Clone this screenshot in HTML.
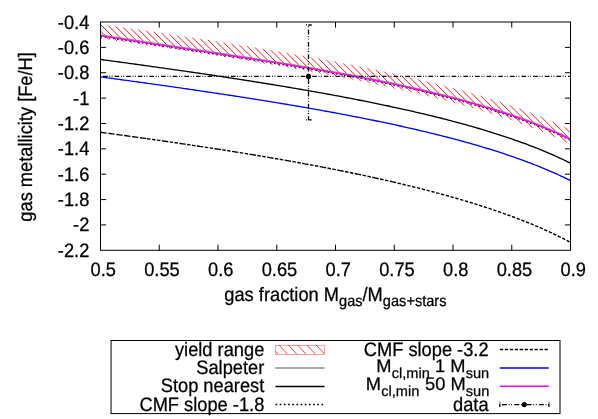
<!DOCTYPE html>
<html><head><meta charset="utf-8"><title>plot</title>
<style>html,body{margin:0;padding:0;background:#fff;}svg{display:block;}</style></head>
<body>
<svg width="598" height="419" viewBox="0 0 598 419">
<defs><clipPath id="plot"><rect x="100.50" y="22.00" width="470.00" height="228.30"/></clipPath>
<clipPath id="band"><path d="M100.50,24.31 L102.85,24.63 L105.20,24.96 L107.55,25.29 L109.90,25.62 L112.25,25.95 L114.60,26.28 L116.95,26.61 L119.30,26.94 L121.65,27.27 L124.00,27.61 L126.35,27.94 L128.70,28.27 L131.05,28.61 L133.40,28.94 L135.75,29.28 L138.10,29.62 L140.45,29.95 L142.80,30.29 L145.15,30.63 L147.50,30.97 L149.85,31.31 L152.20,31.65 L154.55,31.99 L156.90,32.34 L159.25,32.68 L161.60,33.03 L163.95,33.37 L166.30,33.72 L168.65,34.06 L171.00,34.41 L173.35,34.76 L175.70,35.11 L178.05,35.46 L180.40,35.81 L182.75,36.16 L185.10,36.52 L187.45,36.87 L189.80,37.23 L192.15,37.58 L194.50,37.94 L196.85,38.30 L199.20,38.66 L201.55,39.02 L203.90,39.38 L206.25,39.74 L208.60,40.10 L210.95,40.47 L213.30,40.83 L215.65,41.20 L218.00,41.57 L220.35,41.94 L222.70,42.31 L225.05,42.68 L227.40,43.05 L229.75,43.43 L232.10,43.80 L234.45,44.18 L236.80,44.56 L239.15,44.93 L241.50,45.31 L243.85,45.70 L246.20,46.08 L248.55,46.46 L250.90,46.85 L253.25,47.23 L255.60,47.62 L257.95,48.01 L260.30,48.40 L262.65,48.80 L265.00,49.19 L267.35,49.58 L269.70,49.98 L272.05,50.38 L274.40,50.78 L276.75,51.18 L279.10,51.59 L281.45,51.99 L283.80,52.40 L286.15,52.80 L288.50,53.21 L290.85,53.63 L293.20,54.04 L295.55,54.45 L297.90,54.87 L300.25,55.29 L302.60,55.71 L304.95,56.13 L307.30,56.56 L309.65,56.98 L312.00,57.41 L314.35,57.84 L316.70,58.27 L319.05,58.71 L321.40,59.14 L323.75,59.58 L326.10,60.02 L328.45,60.46 L330.80,60.91 L333.15,61.36 L335.50,61.81 L337.85,62.26 L340.20,62.71 L342.55,63.17 L344.90,63.63 L347.25,64.09 L349.60,64.55 L351.95,65.01 L354.30,65.48 L356.65,65.95 L359.00,66.43 L361.35,66.90 L363.70,67.38 L366.05,67.86 L368.40,68.35 L370.75,68.84 L373.10,69.33 L375.45,69.82 L377.80,70.31 L380.15,70.81 L382.50,71.31 L384.85,71.82 L387.20,72.33 L389.55,72.84 L391.90,73.35 L394.25,73.87 L396.60,74.39 L398.95,74.92 L401.30,75.45 L403.65,75.98 L406.00,76.51 L408.35,77.05 L410.70,77.59 L413.05,78.14 L415.40,78.69 L417.75,79.25 L420.10,79.80 L422.45,80.37 L424.80,80.93 L427.15,81.50 L429.50,82.08 L431.85,82.66 L434.20,83.24 L436.55,83.83 L438.90,84.43 L441.25,85.02 L443.60,85.63 L445.95,86.24 L448.30,86.85 L450.65,87.47 L453.00,88.09 L455.35,88.72 L457.70,89.35 L460.05,89.99 L462.40,90.64 L464.75,91.29 L467.10,91.95 L469.45,92.61 L471.80,93.28 L474.15,93.96 L476.50,94.64 L478.85,95.33 L481.20,96.03 L483.55,96.73 L485.90,97.44 L488.25,98.16 L490.60,98.88 L492.95,99.61 L495.30,100.35 L497.65,101.10 L500.00,101.86 L502.35,102.63 L504.70,103.40 L507.05,104.18 L509.40,104.98 L511.75,105.78 L514.10,106.59 L516.45,107.41 L518.80,108.24 L521.15,109.08 L523.50,109.94 L525.85,110.80 L528.20,111.68 L530.55,112.56 L532.90,113.46 L535.25,114.37 L537.60,115.30 L539.95,116.24 L542.30,117.19 L544.65,118.16 L547.00,119.14 L549.35,120.13 L551.70,121.14 L554.05,122.17 L556.40,123.22 L558.75,124.28 L561.10,125.36 L563.45,126.46 L565.80,127.58 L568.15,128.72 L570.50,129.88 L570.50,144.48 L568.15,143.31 L565.80,142.17 L563.45,141.06 L561.10,139.96 L558.75,138.87 L556.40,137.81 L554.05,136.76 L551.70,135.74 L549.35,134.72 L547.00,133.73 L544.65,132.74 L542.30,131.78 L539.95,130.82 L537.60,129.89 L535.25,128.96 L532.90,128.05 L530.55,127.15 L528.20,126.26 L525.85,125.38 L523.50,124.52 L521.15,123.66 L518.80,122.82 L516.45,121.99 L514.10,121.16 L511.75,120.35 L509.40,119.55 L507.05,118.76 L504.70,117.97 L502.35,117.20 L500.00,116.43 L497.65,115.67 L495.30,114.92 L492.95,114.18 L490.60,113.45 L488.25,112.72 L485.90,112.00 L483.55,111.29 L481.20,110.59 L478.85,109.89 L476.50,109.20 L474.15,108.52 L471.80,107.84 L469.45,107.17 L467.10,106.50 L464.75,105.85 L462.40,105.19 L460.05,104.55 L457.70,103.91 L455.35,103.27 L453.00,102.64 L450.65,102.02 L448.30,101.40 L445.95,100.78 L443.60,100.17 L441.25,99.57 L438.90,98.97 L436.55,98.38 L434.20,97.79 L431.85,97.20 L429.50,96.62 L427.15,96.04 L424.80,95.47 L422.45,94.90 L420.10,94.34 L417.75,93.78 L415.40,93.23 L413.05,92.67 L410.70,92.13 L408.35,91.58 L406.00,91.04 L403.65,90.51 L401.30,89.97 L398.95,89.44 L396.60,88.92 L394.25,88.40 L391.90,87.88 L389.55,87.36 L387.20,86.85 L384.85,86.34 L382.50,85.83 L380.15,85.33 L377.80,84.83 L375.45,84.34 L373.10,83.84 L370.75,83.35 L368.40,82.86 L366.05,82.38 L363.70,81.89 L361.35,81.41 L359.00,80.94 L356.65,80.46 L354.30,79.99 L351.95,79.52 L349.60,79.06 L347.25,78.59 L344.90,78.13 L342.55,77.67 L340.20,77.21 L337.85,76.76 L335.50,76.31 L333.15,75.86 L330.80,75.41 L328.45,74.96 L326.10,74.52 L323.75,74.08 L321.40,73.64 L319.05,73.20 L316.70,72.77 L314.35,72.33 L312.00,71.90 L309.65,71.47 L307.30,71.05 L304.95,70.62 L302.60,70.20 L300.25,69.78 L297.90,69.36 L295.55,68.94 L293.20,68.52 L290.85,68.11 L288.50,67.69 L286.15,67.28 L283.80,66.87 L281.45,66.47 L279.10,66.06 L276.75,65.66 L274.40,65.25 L272.05,64.85 L269.70,64.45 L267.35,64.06 L265.00,63.66 L262.65,63.26 L260.30,62.87 L257.95,62.48 L255.60,62.09 L253.25,61.70 L250.90,61.31 L248.55,60.92 L246.20,60.54 L243.85,60.16 L241.50,59.77 L239.15,59.39 L236.80,59.01 L234.45,58.63 L232.10,58.26 L229.75,57.88 L227.40,57.51 L225.05,57.13 L222.70,56.76 L220.35,56.39 L218.00,56.02 L215.65,55.65 L213.30,55.28 L210.95,54.92 L208.60,54.55 L206.25,54.19 L203.90,53.82 L201.55,53.46 L199.20,53.10 L196.85,52.74 L194.50,52.38 L192.15,52.02 L189.80,51.66 L187.45,51.31 L185.10,50.95 L182.75,50.60 L180.40,50.25 L178.05,49.89 L175.70,49.54 L173.35,49.19 L171.00,48.84 L168.65,48.49 L166.30,48.14 L163.95,47.80 L161.60,47.45 L159.25,47.11 L156.90,46.76 L154.55,46.42 L152.20,46.07 L149.85,45.73 L147.50,45.39 L145.15,45.05 L142.80,44.71 L140.45,44.37 L138.10,44.03 L135.75,43.69 L133.40,43.36 L131.05,43.02 L128.70,42.69 L126.35,42.35 L124.00,42.02 L121.65,41.68 L119.30,41.35 L116.95,41.02 L114.60,40.69 L112.25,40.35 L109.90,40.02 L107.55,39.69 L105.20,39.36 L102.85,39.04 L100.50,38.71 Z"/></clipPath>
<clipPath id="kb"><rect x="275.2" y="345" width="49.5" height="9.25"/></clipPath></defs>
<rect width="598" height="419" fill="#fff"/>
<path d="M100.50,47.37 h5.6 M570.50,47.37 h-5.6 M100.50,72.73 h5.6 M570.50,72.73 h-5.6 M100.50,98.10 h5.6 M570.50,98.10 h-5.6 M100.50,123.47 h5.6 M570.50,123.47 h-5.6 M100.50,148.83 h5.6 M570.50,148.83 h-5.6 M100.50,174.20 h5.6 M570.50,174.20 h-5.6 M100.50,199.57 h5.6 M570.50,199.57 h-5.6 M100.50,224.93 h5.6 M570.50,224.93 h-5.6 M159.25,250.30 v-5.6 M159.25,22.00 v5.6 M218.00,250.30 v-5.6 M218.00,22.00 v5.6 M276.75,250.30 v-5.6 M276.75,22.00 v5.6 M335.50,250.30 v-5.6 M335.50,22.00 v5.6 M394.25,250.30 v-5.6 M394.25,22.00 v5.6 M453.00,250.30 v-5.6 M453.00,22.00 v5.6 M511.75,250.30 v-5.6 M511.75,22.00 v5.6" stroke="#000" stroke-width="1" fill="none"/>
<g clip-path="url(#plot)" fill="none">
<g clip-path="url(#band)"><path d="M-121.16,0 L178.84,300.00 M-114.59,0 L185.41,300.00 M-108.02,0 L191.98,300.00 M-101.44,0 L198.56,300.00 M-94.87,0 L205.13,300.00 M-88.30,0 L211.70,300.00 M-81.73,0 L218.27,300.00 M-75.16,0 L224.84,300.00 M-68.58,0 L231.42,300.00 M-62.01,0 L237.99,300.00 M-55.44,0 L244.56,300.00 M-48.87,0 L251.13,300.00 M-42.30,0 L257.70,300.00 M-35.72,0 L264.28,300.00 M-29.15,0 L270.85,300.00 M-22.58,0 L277.42,300.00 M-16.01,0 L283.99,300.00 M-9.44,0 L290.56,300.00 M-2.86,0 L297.14,300.00 M3.71,0 L303.71,300.00 M10.28,0 L310.28,300.00 M16.85,0 L316.85,300.00 M23.42,0 L323.42,300.00 M30.00,0 L330.00,300.00 M36.57,0 L336.57,300.00 M43.14,0 L343.14,300.00 M49.71,0 L349.71,300.00 M56.28,0 L356.28,300.00 M62.86,0 L362.86,300.00 M69.43,0 L369.43,300.00 M76.00,0 L376.00,300.00 M82.57,0 L382.57,300.00 M89.14,0 L389.14,300.00 M95.72,0 L395.72,300.00 M102.29,0 L402.29,300.00 M108.86,0 L408.86,300.00 M115.43,0 L415.43,300.00 M122.00,0 L422.00,300.00 M128.58,0 L428.58,300.00 M135.15,0 L435.15,300.00 M141.72,0 L441.72,300.00 M148.29,0 L448.29,300.00 M154.86,0 L454.86,300.00 M161.44,0 L461.44,300.00 M168.01,0 L468.01,300.00 M174.58,0 L474.58,300.00 M181.15,0 L481.15,300.00 M187.72,0 L487.72,300.00 M194.30,0 L494.30,300.00 M200.87,0 L500.87,300.00 M207.44,0 L507.44,300.00 M214.01,0 L514.01,300.00 M220.58,0 L520.58,300.00 M227.16,0 L527.16,300.00 M233.73,0 L533.73,300.00 M240.30,0 L540.30,300.00 M246.87,0 L546.87,300.00 M253.44,0 L553.44,300.00 M260.02,0 L560.02,300.00 M266.59,0 L566.59,300.00 M273.16,0 L573.16,300.00 M279.73,0 L579.73,300.00 M286.30,0 L586.30,300.00 M292.88,0 L592.88,300.00 M299.45,0 L599.45,300.00 M306.02,0 L606.02,300.00 M312.59,0 L612.59,300.00 M319.16,0 L619.16,300.00 M325.74,0 L625.74,300.00 M332.31,0 L632.31,300.00 M338.88,0 L638.88,300.00 M345.45,0 L645.45,300.00 M352.02,0 L652.02,300.00 M358.60,0 L658.60,300.00 M365.17,0 L665.17,300.00 M371.74,0 L671.74,300.00 M378.31,0 L678.31,300.00 M384.88,0 L684.88,300.00 M391.46,0 L691.46,300.00 M398.03,0 L698.03,300.00 M404.60,0 L704.60,300.00 M411.17,0 L711.17,300.00 M417.74,0 L717.74,300.00 M424.32,0 L724.32,300.00 M430.89,0 L730.89,300.00 M437.46,0 L737.46,300.00 M444.03,0 L744.03,300.00 M450.60,0 L750.60,300.00 M457.18,0 L757.18,300.00 M463.75,0 L763.75,300.00 M470.32,0 L770.32,300.00 M476.89,0 L776.89,300.00 M483.46,0 L783.46,300.00 M490.04,0 L790.04,300.00 M496.61,0 L796.61,300.00 M503.18,0 L803.18,300.00 M509.75,0 L809.75,300.00 M516.32,0 L816.32,300.00 M522.90,0 L822.90,300.00 M529.47,0 L829.47,300.00 M536.04,0 L836.04,300.00 M542.61,0 L842.61,300.00 M549.18,0 L849.18,300.00 M555.76,0 L855.76,300.00 M562.33,0 L862.33,300.00 M568.90,0 L868.90,300.00" stroke="#ff1010" stroke-width="0.95"/></g>
<path d="M100.50,34.91 L102.85,35.28 L105.20,35.65 L107.55,36.02 L109.90,36.39 L112.25,36.76 L114.60,37.12 L116.95,37.49 L119.30,37.86 L121.65,38.22 L124.00,38.59 L126.35,38.95 L128.70,39.31 L131.05,39.68 L133.40,40.04 L135.75,40.40 L138.10,40.76 L140.45,41.12 L142.80,41.48 L145.15,41.84 L147.50,42.20 L149.85,42.56 L152.20,42.92 L154.55,43.28 L156.90,43.64 L159.25,43.99 L161.60,44.35 L163.95,44.71 L166.30,45.06 L168.65,45.42 L171.00,45.78 L173.35,46.13 L175.70,46.49 L178.05,46.85 L180.40,47.20 L182.75,47.56 L185.10,47.92 L187.45,48.27 L189.80,48.63 L192.15,48.99 L194.50,49.34 L196.85,49.70 L199.20,50.06 L201.55,50.41 L203.90,50.77 L206.25,51.13 L208.60,51.48 L210.95,51.84 L213.30,52.20 L215.65,52.56 L218.00,52.92 L220.35,53.28 L222.70,53.64 L225.05,54.00 L227.40,54.36 L229.75,54.72 L232.10,55.08 L234.45,55.45 L236.80,55.81 L239.15,56.18 L241.50,56.54 L243.85,56.91 L246.20,57.27 L248.55,57.64 L250.90,58.01 L253.25,58.38 L255.60,58.75 L257.95,59.12 L260.30,59.49 L262.65,59.86 L265.00,60.23 L267.35,60.61 L269.70,60.99 L272.05,61.36 L274.40,61.74 L276.75,62.12 L279.10,62.50 L281.45,62.88 L283.80,63.27 L286.15,63.65 L288.50,64.04 L290.85,64.42 L293.20,64.81 L295.55,65.20 L297.90,65.59 L300.25,65.99 L302.60,66.38 L304.95,66.78 L307.30,67.18 L309.65,67.58 L312.00,67.98 L314.35,68.38 L316.70,68.79 L319.05,69.20 L321.40,69.61 L323.75,70.02 L326.10,70.43 L328.45,70.85 L330.80,71.26 L333.15,71.68 L335.50,72.11 L337.85,72.53 L340.20,72.96 L342.55,73.39 L344.90,73.82 L347.25,74.25 L349.60,74.69 L351.95,75.13 L354.30,75.57 L356.65,76.01 L359.00,76.46 L361.35,76.91 L363.70,77.36 L366.05,77.82 L368.40,78.28 L370.75,78.74 L373.10,79.20 L375.45,79.67 L377.80,80.14 L380.15,80.62 L382.50,81.09 L384.85,81.57 L387.20,82.06 L389.55,82.55 L391.90,83.04 L394.25,83.53 L396.60,84.03 L398.95,84.54 L401.30,85.04 L403.65,85.55 L406.00,86.07 L408.35,86.59 L410.70,87.11 L413.05,87.64 L415.40,88.17 L417.75,88.70 L420.10,89.24 L422.45,89.79 L424.80,90.34 L427.15,90.89 L429.50,91.45 L431.85,92.02 L434.20,92.59 L436.55,93.16 L438.90,93.74 L441.25,94.33 L443.60,94.92 L445.95,95.52 L448.30,96.12 L450.65,96.73 L453.00,97.34 L455.35,97.96 L457.70,98.59 L460.05,99.22 L462.40,99.85 L464.75,100.50 L467.10,101.14 L469.45,101.80 L471.80,102.46 L474.15,103.13 L476.50,103.80 L478.85,104.48 L481.20,105.17 L483.55,105.86 L485.90,106.56 L488.25,107.27 L490.60,107.99 L492.95,108.71 L495.30,109.44 L497.65,110.18 L500.00,110.93 L502.35,111.69 L504.70,112.45 L507.05,113.23 L509.40,114.01 L511.75,114.80 L514.10,115.60 L516.45,116.42 L518.80,117.24 L521.15,118.07 L523.50,118.92 L525.85,119.77 L528.20,120.64 L530.55,121.52 L532.90,122.41 L535.25,123.31 L537.60,124.23 L539.95,125.15 L542.30,126.10 L544.65,127.05 L547.00,128.03 L549.35,129.01 L551.70,130.02 L554.05,131.03 L556.40,132.07 L558.75,133.12 L561.10,134.20 L563.45,135.29 L565.80,136.39 L568.15,137.52 L570.50,138.68" stroke="#909090" stroke-width="1.4"/>
<path d="M100.50,59.44 L102.85,59.76 L105.20,60.07 L107.55,60.39 L109.90,60.71 L112.25,61.03 L114.60,61.35 L116.95,61.67 L119.30,61.99 L121.65,62.31 L124.00,62.64 L126.35,62.96 L128.70,63.28 L131.05,63.61 L133.40,63.93 L135.75,64.25 L138.10,64.58 L140.45,64.90 L142.80,65.23 L145.15,65.56 L147.50,65.88 L149.85,66.21 L152.20,66.54 L154.55,66.87 L156.90,67.20 L159.25,67.53 L161.60,67.86 L163.95,68.19 L166.30,68.53 L168.65,68.86 L171.00,69.19 L173.35,69.53 L175.70,69.87 L178.05,70.20 L180.40,70.54 L182.75,70.88 L185.10,71.22 L187.45,71.56 L189.80,71.90 L192.15,72.24 L194.50,72.58 L196.85,72.92 L199.20,73.27 L201.55,73.61 L203.90,73.96 L206.25,74.31 L208.60,74.66 L210.95,75.01 L213.30,75.36 L215.65,75.71 L218.00,76.06 L220.35,76.41 L222.70,76.77 L225.05,77.12 L227.40,77.48 L229.75,77.84 L232.10,78.20 L234.45,78.56 L236.80,78.92 L239.15,79.28 L241.50,79.65 L243.85,80.01 L246.20,80.38 L248.55,80.75 L250.90,81.12 L253.25,81.49 L255.60,81.86 L257.95,82.24 L260.30,82.61 L262.65,82.99 L265.00,83.37 L267.35,83.75 L269.70,84.13 L272.05,84.51 L274.40,84.90 L276.75,85.28 L279.10,85.67 L281.45,86.06 L283.80,86.45 L286.15,86.84 L288.50,87.24 L290.85,87.63 L293.20,88.03 L295.55,88.43 L297.90,88.83 L300.25,89.24 L302.60,89.64 L304.95,90.05 L307.30,90.46 L309.65,90.87 L312.00,91.28 L314.35,91.70 L316.70,92.11 L319.05,92.53 L321.40,92.95 L323.75,93.38 L326.10,93.80 L328.45,94.23 L330.80,94.66 L333.15,95.09 L335.50,95.53 L337.85,95.97 L340.20,96.41 L342.55,96.85 L344.90,97.29 L347.25,97.74 L349.60,98.19 L351.95,98.64 L354.30,99.10 L356.65,99.56 L359.00,100.02 L361.35,100.48 L363.70,100.95 L366.05,101.42 L368.40,101.89 L370.75,102.36 L373.10,102.84 L375.45,103.32 L377.80,103.80 L380.15,104.29 L382.50,104.78 L384.85,105.28 L387.20,105.77 L389.55,106.27 L391.90,106.78 L394.25,107.28 L396.60,107.79 L398.95,108.31 L401.30,108.83 L403.65,109.35 L406.00,109.87 L408.35,110.40 L410.70,110.94 L413.05,111.47 L415.40,112.02 L417.75,112.56 L420.10,113.11 L422.45,113.67 L424.80,114.22 L427.15,114.79 L429.50,115.36 L431.85,115.93 L434.20,116.50 L436.55,117.09 L438.90,117.67 L441.25,118.26 L443.60,118.86 L445.95,119.46 L448.30,120.07 L450.65,120.68 L453.00,121.30 L455.35,121.92 L457.70,122.55 L460.05,123.19 L462.40,123.83 L464.75,124.48 L467.10,125.13 L469.45,125.79 L471.80,126.46 L474.15,127.13 L476.50,127.81 L478.85,128.50 L481.20,129.19 L483.55,129.89 L485.90,130.60 L488.25,131.32 L490.60,132.04 L492.95,132.78 L495.30,133.52 L497.65,134.27 L500.00,135.02 L502.35,135.79 L504.70,136.56 L507.05,137.35 L509.40,138.14 L511.75,138.95 L514.10,139.76 L516.45,140.58 L518.80,141.42 L521.15,142.26 L523.50,143.12 L525.85,143.99 L528.20,144.87 L530.55,145.76 L532.90,146.66 L535.25,147.58 L537.60,148.51 L539.95,149.45 L542.30,150.41 L544.65,151.39 L547.00,152.37 L549.35,153.38 L551.70,154.40 L554.05,155.43 L556.40,156.49 L558.75,157.56 L561.10,158.65 L563.45,159.76 L565.80,160.89 L568.15,162.04 L570.50,163.21" stroke="#000" stroke-width="1.32"/>
<path d="M100.50,36.46 L102.85,36.83 L105.20,37.20 L107.55,37.57 L109.90,37.94 L112.25,38.31 L114.60,38.67 L116.95,39.04 L119.30,39.41 L121.65,39.77 L124.00,40.14 L126.35,40.50 L128.70,40.86 L131.05,41.23 L133.40,41.59 L135.75,41.95 L138.10,42.31 L140.45,42.67 L142.80,43.03 L145.15,43.39 L147.50,43.75 L149.85,44.11 L152.20,44.47 L154.55,44.83 L156.90,45.19 L159.25,45.54 L161.60,45.90 L163.95,46.26 L166.30,46.61 L168.65,46.97 L171.00,47.33 L173.35,47.68 L175.70,48.04 L178.05,48.40 L180.40,48.75 L182.75,49.11 L185.10,49.47 L187.45,49.82 L189.80,50.18 L192.15,50.54 L194.50,50.89 L196.85,51.25 L199.20,51.61 L201.55,51.96 L203.90,52.32 L206.25,52.68 L208.60,53.03 L210.95,53.39 L213.30,53.75 L215.65,54.11 L218.00,54.47 L220.35,54.83 L222.70,55.19 L225.05,55.55 L227.40,55.91 L229.75,56.27 L232.10,56.63 L234.45,57.00 L236.80,57.36 L239.15,57.73 L241.50,58.09 L243.85,58.46 L246.20,58.82 L248.55,59.19 L250.90,59.56 L253.25,59.93 L255.60,60.30 L257.95,60.67 L260.30,61.04 L262.65,61.41 L265.00,61.78 L267.35,62.16 L269.70,62.54 L272.05,62.91 L274.40,63.29 L276.75,63.67 L279.10,64.05 L281.45,64.43 L283.80,64.82 L286.15,65.20 L288.50,65.59 L290.85,65.97 L293.20,66.36 L295.55,66.75 L297.90,67.14 L300.25,67.54 L302.60,67.93 L304.95,68.33 L307.30,68.73 L309.65,69.13 L312.00,69.53 L314.35,69.93 L316.70,70.34 L319.05,70.75 L321.40,71.16 L323.75,71.57 L326.10,71.98 L328.45,72.40 L330.80,72.81 L333.15,73.23 L335.50,73.66 L337.85,74.08 L340.20,74.51 L342.55,74.94 L344.90,75.37 L347.25,75.80 L349.60,76.24 L351.95,76.68 L354.30,77.12 L356.65,77.56 L359.00,78.01 L361.35,78.46 L363.70,78.91 L366.05,79.37 L368.40,79.83 L370.75,80.29 L373.10,80.75 L375.45,81.22 L377.80,81.69 L380.15,82.17 L382.50,82.64 L384.85,83.12 L387.20,83.61 L389.55,84.10 L391.90,84.59 L394.25,85.08 L396.60,85.58 L398.95,86.09 L401.30,86.59 L403.65,87.10 L406.00,87.62 L408.35,88.14 L410.70,88.66 L413.05,89.19 L415.40,89.72 L417.75,90.25 L420.10,90.79 L422.45,91.34 L424.80,91.89 L427.15,92.44 L429.50,93.00 L431.85,93.57 L434.20,94.14 L436.55,94.71 L438.90,95.29 L441.25,95.88 L443.60,96.47 L445.95,97.07 L448.30,97.67 L450.65,98.28 L453.00,98.89 L455.35,99.51 L457.70,100.14 L460.05,100.77 L462.40,101.40 L464.75,102.05 L467.10,102.69 L469.45,103.35 L471.80,104.01 L474.15,104.68 L476.50,105.35 L478.85,106.03 L481.20,106.72 L483.55,107.41 L485.90,108.11 L488.25,108.82 L490.60,109.54 L492.95,110.26 L495.30,110.99 L497.65,111.73 L500.00,112.48 L502.35,113.24 L504.70,114.00 L507.05,114.78 L509.40,115.56 L511.75,116.35 L514.10,117.15 L516.45,117.97 L518.80,118.79 L521.15,119.62 L523.50,120.47 L525.85,121.32 L528.20,122.19 L530.55,123.07 L532.90,123.96 L535.25,124.86 L537.60,125.78 L539.95,126.70 L542.30,127.65 L544.65,128.60 L547.00,129.58 L549.35,130.56 L551.70,131.57 L554.05,132.58 L556.40,133.62 L558.75,134.67 L561.10,135.75 L563.45,136.84 L565.80,137.94 L568.15,139.07 L570.50,140.23" stroke="#000" stroke-width="1.35" stroke-dasharray="1.7 2.48"/>
<path d="M100.50,132.25 L102.85,132.57 L105.20,132.89 L107.55,133.21 L109.90,133.53 L112.25,133.85 L114.60,134.17 L116.95,134.49 L119.30,134.82 L121.65,135.14 L124.00,135.46 L126.35,135.79 L128.70,136.11 L131.05,136.44 L133.40,136.76 L135.75,137.09 L138.10,137.42 L140.45,137.75 L142.80,138.08 L145.15,138.41 L147.10,138.69" stroke="#000" stroke-width="1.4" stroke-dasharray="6.3 1.67"/>
<path d="M147.10,138.69 L147.50,138.74 L149.85,139.07 L152.20,139.41 L154.55,139.74 L156.90,140.08 L159.25,140.41 L161.60,140.75 L163.95,141.09 L164.65,141.19 M164.65,141.19 L166.30,141.43 L168.65,141.77 L171.00,142.11 L173.35,142.45 L175.70,142.79 L178.05,143.14 L180.40,143.48 L182.20,143.75 M182.20,143.75 L182.75,143.83 L185.10,144.18 L187.45,144.52 L189.80,144.87 L192.15,145.22 L194.50,145.58 L196.85,145.93 L199.20,146.28 L199.75,146.37 M199.75,146.37 L201.55,146.64 L203.90,147.00 L206.25,147.35 L208.60,147.71 L210.95,148.07 L213.30,148.44 L215.65,148.80 L217.30,149.06 M217.30,149.06 L218.00,149.16 L220.35,149.53 L222.70,149.90 L225.05,150.27 L227.40,150.64 L229.75,151.01 L232.10,151.38 L234.45,151.76 L234.85,151.82 M234.85,151.82 L236.80,152.13 L239.15,152.51 L241.50,152.89 L243.85,153.27 L246.20,153.65 L248.55,154.04 L250.90,154.42 L252.40,154.67 M252.40,154.67 L253.25,154.81 L255.60,155.20 L257.95,155.59 L260.30,155.99 L262.65,156.38 L265.00,156.78 L267.35,157.17 L269.70,157.57 L269.95,157.62 M269.95,157.62 L272.05,157.98 L274.40,158.38 L276.75,158.79 L279.10,159.19 L281.45,159.60 L283.80,160.02 L286.15,160.43 L287.50,160.67 M287.50,160.67 L288.50,160.85 L290.85,161.26 L293.20,161.68 L295.55,162.11 L297.90,162.53 L300.25,162.96 L302.60,163.39 L304.95,163.82 L305.05,163.84 M305.05,163.84 L307.30,164.25 L309.65,164.69 L312.00,165.12 L314.35,165.56 L316.70,166.01 L319.05,166.45 L321.40,166.90 L322.60,167.13 M322.60,167.13 L323.75,167.35 L326.10,167.80 L328.45,168.26 L330.80,168.72 L333.15,169.18 L335.50,169.64 L337.85,170.11 L340.15,170.57 M340.15,170.57 L340.20,170.58 L342.55,171.05 L344.90,171.52 L347.25,172.00 L349.60,172.48 L351.95,172.97 L354.30,173.45 L356.65,173.94 L357.70,174.16 M357.70,174.16 L359.00,174.44 L361.35,174.93 L363.70,175.43 L366.05,175.93 L368.40,176.44 L370.75,176.95 L373.10,177.46 L375.25,177.93 M375.25,177.93 L375.45,177.98 L377.80,178.50 L380.15,179.02 L382.50,179.55 L384.85,180.08 L387.20,180.61 L389.55,181.15 L391.90,181.69 L392.80,181.90" stroke="#000" stroke-width="1.4" stroke-dasharray="3.5 1.47"/>
<path d="M392.80,181.90 L394.25,182.24 L396.60,182.79 L398.95,183.34 L401.30,183.90 L403.65,184.46 L406.00,185.03 L408.35,185.60 L410.70,186.17 L413.05,186.75 L415.40,187.34 L417.75,187.92 L420.10,188.52 L422.45,189.11 L424.80,189.72 L427.15,190.32 L429.50,190.94 L431.85,191.55 L434.20,192.18 L436.55,192.81 L438.90,193.44 L441.25,194.08 L443.60,194.72 L445.95,195.37 L448.30,196.03 L450.65,196.69 L453.00,197.36 L455.35,198.03 L457.70,198.71 L460.05,199.40 L462.40,200.09 L464.75,200.79 L467.10,201.49 L469.45,202.21 L471.80,202.93 L474.15,203.65 L476.50,204.39 L478.85,205.13 L481.20,205.88 L483.55,206.63 L485.90,207.40 L488.25,208.17 L490.60,208.95 L492.95,209.74 L495.30,210.54 L497.65,211.35 L500.00,212.16 L502.35,212.99 L504.70,213.83 L507.05,214.67 L509.40,215.52 L511.75,216.39 L514.10,217.27 L516.45,218.15 L518.80,219.05 L521.15,219.96 L523.50,220.88 L525.85,221.81 L528.20,222.75 L530.55,223.71 L532.90,224.68 L535.25,225.67 L537.60,226.66 L539.95,227.68 L542.30,228.70 L544.65,229.74 L547.00,230.80 L549.35,231.87 L551.70,232.96 L554.05,234.07 L556.40,235.19 L558.75,236.34 L561.10,237.50 L563.45,238.68 L565.80,239.88 L568.15,241.11 L570.50,242.35" stroke="#000" stroke-width="1.4" stroke-dasharray="3.3 1.67"/>
<path d="M100.50,76.86 L102.85,77.18 L105.20,77.50 L107.55,77.82 L109.90,78.14 L112.25,78.46 L114.60,78.78 L116.95,79.10 L119.30,79.42 L121.65,79.74 L124.00,80.06 L126.35,80.39 L128.70,80.71 L131.05,81.03 L133.40,81.36 L135.75,81.68 L138.10,82.01 L140.45,82.33 L142.80,82.66 L145.15,82.98 L147.50,83.31 L149.85,83.64 L152.20,83.97 L154.55,84.30 L156.90,84.63 L159.25,84.96 L161.60,85.29 L163.95,85.62 L166.30,85.95 L168.65,86.29 L171.00,86.62 L173.35,86.96 L175.70,87.29 L178.05,87.63 L180.40,87.97 L182.75,88.30 L185.10,88.64 L187.45,88.98 L189.80,89.32 L192.15,89.67 L194.50,90.01 L196.85,90.35 L199.20,90.70 L201.55,91.04 L203.90,91.39 L206.25,91.73 L208.60,92.08 L210.95,92.43 L213.30,92.78 L215.65,93.13 L218.00,93.49 L220.35,93.84 L222.70,94.20 L225.05,94.55 L227.40,94.91 L229.75,95.27 L232.10,95.63 L234.45,95.99 L236.80,96.35 L239.15,96.71 L241.50,97.08 L243.85,97.44 L246.20,97.81 L248.55,98.18 L250.90,98.55 L253.25,98.92 L255.60,99.29 L257.95,99.66 L260.30,100.04 L262.65,100.42 L265.00,100.79 L267.35,101.17 L269.70,101.56 L272.05,101.94 L274.40,102.32 L276.75,102.71 L279.10,103.10 L281.45,103.49 L283.80,103.88 L286.15,104.27 L288.50,104.66 L290.85,105.06 L293.20,105.46 L295.55,105.86 L297.90,106.26 L300.25,106.66 L302.60,107.07 L304.95,107.47 L307.30,107.88 L309.65,108.29 L312.00,108.71 L314.35,109.12 L316.70,109.54 L319.05,109.96 L321.40,110.38 L323.75,110.80 L326.10,111.23 L328.45,111.66 L330.80,112.09 L333.15,112.52 L335.50,112.96 L337.85,113.39 L340.20,113.83 L342.55,114.28 L344.90,114.72 L347.25,115.17 L349.60,115.62 L351.95,116.07 L354.30,116.53 L356.65,116.98 L359.00,117.44 L361.35,117.91 L363.70,118.37 L366.05,118.84 L368.40,119.31 L370.75,119.79 L373.10,120.27 L375.45,120.75 L377.80,121.23 L380.15,121.72 L382.50,122.21 L384.85,122.70 L387.20,123.20 L389.55,123.70 L391.90,124.20 L394.25,124.71 L396.60,125.22 L398.95,125.74 L401.30,126.25 L403.65,126.78 L406.00,127.30 L408.35,127.83 L410.70,128.36 L413.05,128.90 L415.40,129.44 L417.75,129.99 L420.10,130.54 L422.45,131.09 L424.80,131.65 L427.15,132.21 L429.50,132.78 L431.85,133.35 L434.20,133.93 L436.55,134.51 L438.90,135.10 L441.25,135.69 L443.60,136.29 L445.95,136.89 L448.30,137.50 L450.65,138.11 L453.00,138.73 L455.35,139.35 L457.70,139.98 L460.05,140.62 L462.40,141.26 L464.75,141.91 L467.10,142.56 L469.45,143.22 L471.80,143.89 L474.15,144.56 L476.50,145.24 L478.85,145.93 L481.20,146.62 L483.55,147.32 L485.90,148.03 L488.25,148.75 L490.60,149.47 L492.95,150.20 L495.30,150.94 L497.65,151.69 L500.00,152.45 L502.35,153.22 L504.70,153.99 L507.05,154.77 L509.40,155.57 L511.75,156.37 L514.10,157.19 L516.45,158.01 L518.80,158.84 L521.15,159.69 L523.50,160.55 L525.85,161.41 L528.20,162.29 L530.55,163.19 L532.90,164.09 L535.25,165.01 L537.60,165.94 L539.95,166.88 L542.30,167.84 L544.65,168.81 L547.00,169.80 L549.35,170.80 L551.70,171.82 L554.05,172.86 L556.40,173.91 L558.75,174.98 L561.10,176.07 L563.45,177.18 L565.80,178.31 L568.15,179.46 L570.50,180.63" stroke="#0000ff" stroke-width="1.32"/>
<path d="M100.50,35.71 L102.85,36.08 L105.20,36.45 L107.55,36.82 L109.90,37.19 L112.25,37.56 L114.60,37.92 L116.95,38.29 L119.30,38.66 L121.65,39.02 L124.00,39.39 L126.35,39.75 L128.70,40.11 L131.05,40.48 L133.40,40.84 L135.75,41.20 L138.10,41.56 L140.45,41.92 L142.80,42.28 L145.15,42.64 L147.50,43.00 L149.85,43.36 L152.20,43.72 L154.55,44.08 L156.90,44.44 L159.25,44.79 L161.60,45.15 L163.95,45.51 L166.30,45.86 L168.65,46.22 L171.00,46.58 L173.35,46.93 L175.70,47.29 L178.05,47.65 L180.40,48.00 L182.75,48.36 L185.10,48.72 L187.45,49.07 L189.80,49.43 L192.15,49.79 L194.50,50.14 L196.85,50.50 L199.20,50.86 L201.55,51.21 L203.90,51.57 L206.25,51.93 L208.60,52.28 L210.95,52.64 L213.30,53.00 L215.65,53.36 L218.00,53.72 L220.35,54.08 L222.70,54.44 L225.05,54.80 L227.40,55.16 L229.75,55.52 L232.10,55.88 L234.45,56.25 L236.80,56.61 L239.15,56.98 L241.50,57.34 L243.85,57.71 L246.20,58.07 L248.55,58.44 L250.90,58.81 L253.25,59.18 L255.60,59.55 L257.95,59.92 L260.30,60.29 L262.65,60.66 L265.00,61.03 L267.35,61.41 L269.70,61.79 L272.05,62.16 L274.40,62.54 L276.75,62.92 L279.10,63.30 L281.45,63.68 L283.80,64.07 L286.15,64.45 L288.50,64.84 L290.85,65.22 L293.20,65.61 L295.55,66.00 L297.90,66.39 L300.25,66.79 L302.60,67.18 L304.95,67.58 L307.30,67.98 L309.65,68.38 L312.00,68.78 L314.35,69.18 L316.70,69.59 L319.05,70.00 L321.40,70.41 L323.75,70.82 L326.10,71.23 L328.45,71.65 L330.80,72.06 L333.15,72.48 L335.50,72.91 L337.85,73.33 L340.20,73.76 L342.55,74.19 L344.90,74.62 L347.25,75.05 L349.60,75.49 L351.95,75.93 L354.30,76.37 L356.65,76.81 L359.00,77.26 L361.35,77.71 L363.70,78.16 L366.05,78.62 L368.40,79.08 L370.75,79.54 L373.10,80.00 L375.45,80.47 L377.80,80.94 L380.15,81.42 L382.50,81.89 L384.85,82.37 L387.20,82.86 L389.55,83.35 L391.90,83.84 L394.25,84.33 L396.60,84.83 L398.95,85.34 L401.30,85.84 L403.65,86.35 L406.00,86.87 L408.35,87.39 L410.70,87.91 L413.05,88.44 L415.40,88.97 L417.75,89.50 L420.10,90.04 L422.45,90.59 L424.80,91.14 L427.15,91.69 L429.50,92.25 L431.85,92.82 L434.20,93.39 L436.55,93.96 L438.90,94.54 L441.25,95.13 L443.60,95.72 L445.95,96.32 L448.30,96.92 L450.65,97.53 L453.00,98.14 L455.35,98.76 L457.70,99.39 L460.05,100.02 L462.40,100.65 L464.75,101.30 L467.10,101.94 L469.45,102.60 L471.80,103.26 L474.15,103.93 L476.50,104.60 L478.85,105.28 L481.20,105.97 L483.55,106.66 L485.90,107.36 L488.25,108.07 L490.60,108.79 L492.95,109.51 L495.30,110.24 L497.65,110.98 L500.00,111.73 L502.35,112.49 L504.70,113.25 L507.05,114.03 L509.40,114.81 L511.75,115.60 L514.10,116.40 L516.45,117.22 L518.80,118.04 L521.15,118.87 L523.50,119.72 L525.85,120.57 L528.20,121.44 L530.55,122.32 L532.90,123.21 L535.25,124.11 L537.60,125.03 L539.95,125.95 L542.30,126.90 L544.65,127.85 L547.00,128.83 L549.35,129.81 L551.70,130.82 L554.05,131.83 L556.40,132.87 L558.75,133.92 L561.10,135.00 L563.45,136.09 L565.80,137.19 L568.15,138.32 L570.50,139.48" stroke="#ff00ff" stroke-width="1.4"/>
</g>
<g stroke="#000" stroke-width="1.3" fill="none">
<path d="M100.50,76.38 H570.50" stroke-dasharray="4.6 1.7 0.85 1.5 0.85 2.125" stroke-dashoffset="9.125"/>
<path d="M308.50,25 V120" stroke-dasharray="4.9 1.8 0.9 1.6 0.9 2.3" stroke-dashoffset="7.9"/>
<path d="M306.1,25 h5.6 M306.1,119.9 h5.6" stroke-dasharray="0.9 1.4 3.3"/>
</g>
<circle cx="308.50" cy="76.38" r="2.55" fill="#000"/>
<rect x="100.50" y="22.00" width="470.00" height="228.30" fill="none" stroke="#000" stroke-width="1"/>
<g style="font-family:'Liberation Sans',sans-serif;will-change:transform;text-rendering:geometricPrecision" font-size="18.27" fill="#000" stroke="#000" stroke-width="0.25">
<text transform="translate(89.30,28.50) scale(1,1.065)" text-anchor="end">-0.4</text>
<text transform="translate(89.30,53.87) scale(1,1.065)" text-anchor="end">-0.6</text>
<text transform="translate(89.30,79.23) scale(1,1.065)" text-anchor="end">-0.8</text>
<text transform="translate(89.30,104.60) scale(1,1.065)" text-anchor="end">-1</text>
<text transform="translate(89.30,129.97) scale(1,1.065)" text-anchor="end">-1.2</text>
<text transform="translate(89.30,155.33) scale(1,1.065)" text-anchor="end">-1.4</text>
<text transform="translate(89.30,180.70) scale(1,1.065)" text-anchor="end">-1.6</text>
<text transform="translate(89.30,206.07) scale(1,1.065)" text-anchor="end">-1.8</text>
<text transform="translate(89.30,231.43) scale(1,1.065)" text-anchor="end">-2</text>
<text transform="translate(89.30,256.80) scale(1,1.065)" text-anchor="end">-2.2</text>
<text transform="translate(103.20,275.50) scale(1,1.065)" text-anchor="middle">0.5</text>
<text transform="translate(161.95,275.50) scale(1,1.065)" text-anchor="middle">0.55</text>
<text transform="translate(220.70,275.50) scale(1,1.065)" text-anchor="middle">0.6</text>
<text transform="translate(279.45,275.50) scale(1,1.065)" text-anchor="middle">0.65</text>
<text transform="translate(338.20,275.50) scale(1,1.065)" text-anchor="middle">0.7</text>
<text transform="translate(396.95,275.50) scale(1,1.065)" text-anchor="middle">0.75</text>
<text transform="translate(455.70,275.50) scale(1,1.065)" text-anchor="middle">0.8</text>
<text transform="translate(514.45,275.50) scale(1,1.065)" text-anchor="middle">0.85</text>
<text transform="translate(573.20,275.50) scale(1,1.065)" text-anchor="middle">0.9</text>
<text transform="translate(32.00,136.90) rotate(-90) scale(1,1.065)" text-anchor="middle">gas metallicity [Fe/H]</text>
<text transform="translate(224.30,300.90) scale(1,1.065)">gas fraction M<tspan font-size="14.60" dy="4.7">gas</tspan><tspan dy="-4.7">/M</tspan><tspan font-size="14.60" dy="4.7">gas+stars</tspan></text>
<text transform="translate(264.30,356.00) scale(1,1.065)" text-anchor="end">yield range</text>
<text transform="translate(264.30,374.20) scale(1,1.065)" text-anchor="end">Salpeter</text>
<text transform="translate(264.30,392.40) scale(1,1.065)" text-anchor="end">Stop nearest</text>
<text transform="translate(264.30,410.80) scale(1,1.065)" text-anchor="end">CMF slope -1.8</text>
<text transform="translate(488.60,355.70) scale(1,1.065)" text-anchor="end">CMF slope -3.2</text>
<text transform="translate(376.30,372.30) scale(1,1.000)">M<tspan font-size="14.60" dy="5.6" dx="0.2">cl,min</tspan></text>
<text transform="translate(435.00,372.30) scale(1,1.000)">1 M<tspan font-size="14.60" dy="5.6" dx="0.2">sun</tspan></text>
<text transform="translate(365.80,390.30) scale(1,1.000)">M<tspan font-size="14.60" dy="5.6" dx="0.2">cl,min</tspan></text>
<text transform="translate(425.00,390.30) scale(1,1.000)">50 M<tspan font-size="14.60" dy="5.6" dx="0.2">sun</tspan></text>
<text transform="translate(488.60,410.60) scale(1,1.065)" text-anchor="end">data</text>
</g>
<rect x="111.05" y="340.5" width="448.95" height="73.1" fill="none" stroke="#000" stroke-width="1"/>
<g fill="none">
<g clip-path="url(#kb)"><path d="M269.75,345 l8.56,9.25 M279.03,345 l8.56,9.25 M288.31,345 l8.56,9.25 M297.59,345 l8.56,9.25 M306.87,345 l8.56,9.25 M316.15,345 l8.56,9.25" stroke="#ff1010" stroke-width="0.8"/></g>
<rect x="275.2" y="345.2" width="49.5" height="9.1" stroke="#ff3030" stroke-width="0.45"/>
<path d="M275.3,368.05 H324.6" stroke="#909090" stroke-width="1.4"/>
<path d="M275.5,386.4 H324.5" stroke="#000" stroke-width="1.5"/>
<path d="M275.5,404.5 H324.5" stroke="#000" stroke-width="1.5" stroke-dasharray="1.7 2.48"/>
<path d="M499.8,349.5 H548.8" stroke="#000" stroke-width="1.5" stroke-dasharray="3.3 1.67"/>
<path d="M499.8,368 H548.8" stroke="#0000ff" stroke-width="1.5"/>
<path d="M499.8,386.2 H548.8" stroke="#ff00ff" stroke-width="1.5"/>
<path d="M499.8,404.6 H549.0" stroke="#000" stroke-width="1.3" stroke-dasharray="4.9 1.8 0.9 1.6 0.9 2.2" stroke-dashoffset="10.1"/>
<path d="M499.8,401.7 v5.3 M549.0,401.7 v5.3" stroke="#000" stroke-width="1.3" stroke-dasharray="0.9 0.8 3.6"/>
<circle cx="524.3" cy="404.6" r="2.55" fill="#000"/>
</g>
</svg>
</body></html>
